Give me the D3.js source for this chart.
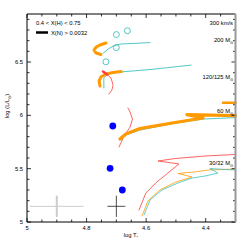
<!DOCTYPE html>
<html><head><meta charset="utf-8">
<script src="https://cdn.jsdelivr.net/npm/d3@7"></script>
<style>html,body{margin:0;padding:0;background:#fff;}svg{display:block;font-family:"Liberation Sans",Arial,sans-serif;}</style>
</head><body>
<script>
// ---- data (log T, log L) ----
const xTicks = [5, 4.8, 4.6, 4.4];
const xTickLabels = ["5", "4.8", "4.6", "4.4"];
const yTicks = [5, 5.5, 6, 6.5];
const yTickLabels = ["5", "5.5", "6", "6.5"];

const cyan200 = [[4.745,6.581],[4.728,6.621],[4.711,6.649],[4.688,6.668],[4.587,6.682]];
const orange200 = [[4.735,6.678],[4.755,6.659],[4.768,6.640],[4.775,6.612],[4.768,6.584],[4.752,6.570]];
const circles = [[4.663,6.793],[4.700,6.757],[4.700,6.635],[4.735,6.502]];

const cyan120 = [[4.742,6.256],[4.742,6.350],[4.728,6.392],[4.688,6.406],[4.587,6.429],[4.449,6.471]];
const orange120 = [[4.684,6.410],[4.711,6.401],[4.735,6.387],[4.752,6.359],[4.758,6.321],[4.755,6.275]];
const red120Thick = [[4.745,6.410],[4.731,6.382]];
const red120 = [[4.731,6.382],[4.718,6.350],[4.711,6.284],[4.715,6.237],[4.725,6.200]];

const cyan60 = [[4.684,5.769],[4.668,5.815],[4.621,5.862],[4.520,5.918],[4.409,5.965],[4.30,5.979]];
const orange60 = [[4.688,5.778],[4.668,5.825],[4.621,5.876],[4.513,5.928],[4.409,5.975],[4.463,6.007],[4.30,5.998]];
const orange60b = [[4.342,6.118],[4.30,6.118]];
const red60 = [[4.691,5.703],[4.674,5.806],[4.654,5.890],[4.646,5.965],[4.654,6.031],[4.661,6.068]];

const cyan30 = [[4.607,5.066],[4.587,5.206],[4.547,5.300],[4.493,5.366],[4.446,5.412],[4.402,5.431],[4.359,5.459],[4.386,5.501],[4.30,5.487]];
const orange30 = [[4.614,5.056],[4.594,5.197],[4.554,5.300],[4.500,5.375],[4.446,5.422],[4.493,5.455],[4.439,5.469],[4.392,5.487],[4.30,5.497]];
const red30 = [[4.624,5.112],[4.601,5.272],[4.564,5.375],[4.527,5.459],[4.490,5.544],[4.560,5.572],[4.503,5.595],[4.402,5.619],[4.30,5.633]];

const stars = [[4.712,5.900],[4.721,5.503],[4.680,5.300]];
// error crosses: [T, L, dT, dL]
const errGray = [4.90, 5.147, 0.09, 0.10];
const errBlack = [4.70, 5.147, 0.03, 0.10];

const massLabels = [
  {t:"300 km/s", L:6.85, sub:""},
  {t:"200 M", L:6.685, sub:"⊙"},
  {t:"120/125 M", L:6.34, sub:"⊙"},
  {t:"60 M", L:6.02, sub:"⊙"},
  {t:"30/32 M", L:5.53, sub:"⊙"}
];

// ---- layout ----
const W = 249, H = 249;
const svg = d3.select("body").append("svg").attr("width", W).attr("height", H);
const x = d3.scaleLinear().domain([5, 4.3]).range([27, 235.5]);
const y = d3.scaleLinear().domain([5, 6.95]).range([222, 14]);

const cCyan = "#40bfbf", cOrange = "#ff9a00", cRed = "#ff3c3c";
const line = d3.line().x(d => x(d[0])).y(d => y(d[1]));

// error crosses
function cross(e, col, wv, wh) {
  svg.append("line").attr("x1", x(e[0]+e[2])).attr("x2", x(e[0]-e[2])).attr("y1", y(e[1])).attr("y2", y(e[1]))
    .attr("stroke", col).attr("stroke-width", wh);
  svg.append("line").attr("x1", x(e[0])).attr("x2", x(e[0])).attr("y1", y(e[1]-e[3])).attr("y2", y(e[1]+e[3]))
    .attr("stroke", col).attr("stroke-width", wv);
}
cross(errGray, "#cccccc", 2, 1);
cross(errBlack, "#222", 0.8, 0.8);

function path(data, col, w) {
  svg.append("path").datum(data).attr("d", line).attr("fill", "none")
    .attr("stroke", col).attr("stroke-width", w).attr("stroke-linejoin", "round").attr("stroke-linecap", "round");
}
// thin tracks
path(cyan200, cCyan, 0.9);
path(cyan120, cCyan, 0.9);
path(red120, cRed, 0.8);
path(red60, cRed, 0.8);
path(red30, cRed, 0.8);
path(orange30, cOrange, 0.8);
path(cyan30, cCyan, 0.8);
path(cyan60, cCyan, 0.9);
// thick segments
path(orange200, cOrange, 3);
path(orange120, cOrange, 3);
path(red120Thick, cRed, 2.5);
path(orange60, cOrange, 3.2);
path(orange60b, cOrange, 2.5);

// circles
svg.selectAll("circle.o").data(circles).enter().append("circle")
  .attr("cx", d => x(d[0])).attr("cy", d => y(d[1])).attr("r", 3)
  .attr("fill", "none").attr("stroke", cCyan).attr("stroke-width", 0.9);
// stars
svg.selectAll("circle.s").data(stars).enter().append("circle")
  .attr("cx", d => x(d[0])).attr("cy", d => y(d[1])).attr("r", 3.4).attr("fill", "#0000ff");

// ---- axes frame & ticks ----
const x0 = x.range()[0], x1 = x.range()[1], y0 = y.range()[0], y1 = y.range()[1];
const minorX = d3.range(0, 15).map(i => 5 - i*0.05);
const minorY = d3.range(0, 20).map(i => 5 + i*0.1);
const g = svg.append("g").attr("stroke", "#000").attr("stroke-width", 0.8);
minorX.forEach(v => {
  const major = xTicks.some(t => Math.abs(t - v) < 1e-6);
  const len = major ? 4 : 2.5;
  g.append("line").attr("x1", x(v)).attr("x2", x(v)).attr("y1", y0).attr("y2", y0 - len);
  g.append("line").attr("x1", x(v)).attr("x2", x(v)).attr("y1", y1).attr("y2", y1 + len);
});
minorY.forEach(v => {
  const major = yTicks.some(t => Math.abs(t - v) < 1e-6);
  const len = major ? 4 : 2.5;
  g.append("line").attr("x1", x0).attr("x2", x0 + len).attr("y1", y(v)).attr("y2", y(v));
  g.append("line").attr("x1", x1).attr("x2", x1 - len).attr("y1", y(v)).attr("y2", y(v));
});
svg.append("line").attr("x1", x0).attr("x2", x1).attr("y1", y0).attr("y2", y0).attr("stroke", "#000").attr("stroke-width", 1);
svg.append("line").attr("x1", x0).attr("x2", x1).attr("y1", y1).attr("y2", y1).attr("stroke", "#000").attr("stroke-width", 1);
svg.append("line").attr("x1", x0).attr("x2", x0).attr("y1", y0).attr("y2", y1).attr("stroke", "#000").attr("stroke-width", 1);
svg.append("line").attr("x1", x1).attr("x2", x1).attr("y1", y0).attr("y2", y1).attr("stroke", "#999").attr("stroke-width", 2);

// tick labels
const fs = 5.8;
xTicks.forEach((v, i) => {
  svg.append("text").attr("x", x(v)).attr("y", y0 + 8).attr("text-anchor", "middle")
    .attr("font-size", fs).text(xTickLabels[i]);
});
yTicks.forEach((v, i) => {
  svg.append("text").attr("x", x0 - 4).attr("y", y(v) + 2).attr("text-anchor", "end")
    .attr("font-size", fs).text(yTickLabels[i]);
});

// axis titles
const xt = svg.append("text").attr("x", 131).attr("y", 237).attr("text-anchor", "middle").attr("font-size", fs);
xt.append("tspan").text("log T");
xt.append("tspan").attr("font-size", 4).attr("dy", 1.5).text("*");
const yt = svg.append("text").attr("transform", "translate(9,106) rotate(-90)").attr("text-anchor", "middle").attr("font-size", fs);
yt.append("tspan").text("log (L/L");
yt.append("tspan").attr("font-size", 4).attr("dy", 1.5).text("⊙");
yt.append("tspan").attr("dy", -1.5).text(")");

// mass labels
massLabels.forEach(m => {
  const t = svg.append("text").attr("x", 233).attr("y", y(m.L)).attr("text-anchor", "end").attr("font-size", fs);
  t.append("tspan").text(m.t);
  if (m.sub) t.append("tspan").attr("font-size", 4).attr("dy", 1.5).text(m.sub);
});

// legend
svg.append("text").attr("x", 36).attr("y", 25).attr("font-size", fs).text("0.4 < X(H) < 0.75");
svg.append("line").attr("x1", 36).attr("x2", 48).attr("y1", 32.5).attr("y2", 32.5).attr("stroke", "#000").attr("stroke-width", 2.5);
svg.append("text").attr("x", 51).attr("y", 34.5).attr("font-size", fs).text("X(N) > 0.0032");
</script>
</body></html>
